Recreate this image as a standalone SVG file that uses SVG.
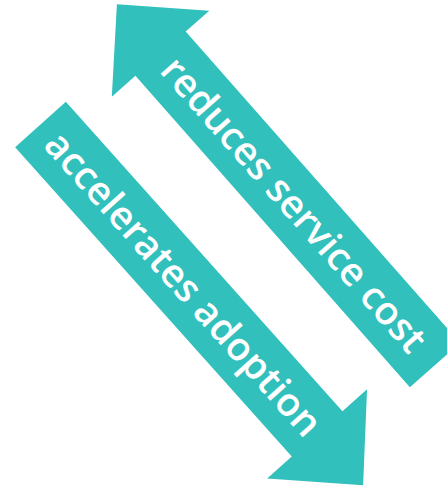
<svg xmlns="http://www.w3.org/2000/svg" width="447" height="486" viewBox="0 0 447 486">
<style>
.arrow{fill:#31C0BC;stroke:none}
.lbl{fill:#FFFFFF;font-family:"Open Sans","Liberation Sans",sans-serif;font-weight:600;font-size:39px}
</style>
<rect width="447" height="486" fill="#FFFFFF"/>
<g id="connectors">
<g id="arrow-reduces">
<path class="arrow" transform="translate(435,365) rotate(228.6)" d="M0,-33.5 L415,-33.5 L415,-65 L481,0 L415,65 L415,33.5 L0,33.5 Z"/>
<text class="lbl" transform="translate(160.5,54) rotate(48.6)" x="201" y="13" text-anchor="middle">reduces service cost</text>
</g>
<g id="arrow-accelerates">
<path class="arrow" transform="translate(40.5,124.5) rotate(48.2)" d="M0,-34 L415,-34 L415,-67 L484,0 L415,67 L415,34 L0,34 Z"/>
<text class="lbl" transform="translate(40.5,124.5) rotate(48.2)" x="214" y="13" text-anchor="middle">accelerates adoption</text>
</g>
</g>
</svg>
